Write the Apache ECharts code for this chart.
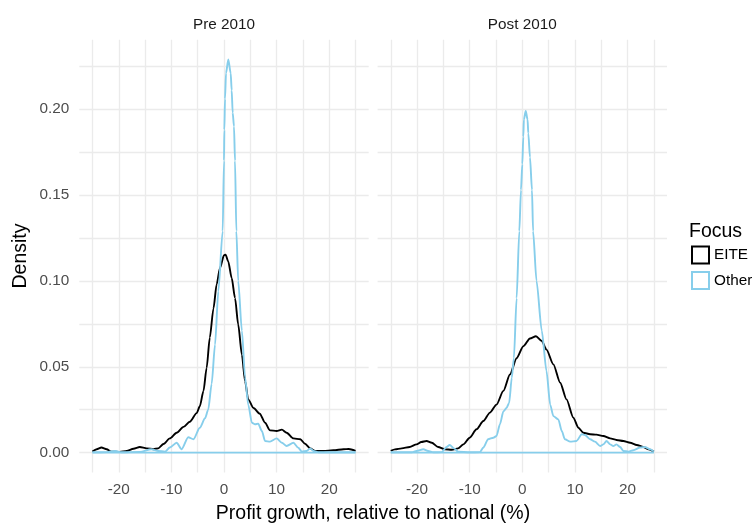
<!DOCTYPE html>
<html><head><meta charset="utf-8">
<script src="https://cdn.jsdelivr.net/npm/echarts@6/dist/echarts.min.js"></script>
<style>html,body{margin:0;padding:0;background:#fff}#c{width:752px;height:523px}</style>
</head><body><div id="c"></div>
<script>
const panels = ['Pre 2010', 'Post 2010'];
const groups = ['EITE', 'Other'];
const groupColors = ['#000000', '#87CEEB'];
const xTicks = [-25, -20, -15, -10, -5, 0, 5, 10, 15, 20, 25];
const xLabels = [-20, -10, 0, 10, 20];
const yTicks = [0, 0.025, 0.05, 0.075, 0.1, 0.125, 0.15, 0.175, 0.2, 0.225];
const yLabels = [0, 0.05, 0.1, 0.15, 0.2];

const preEITE = [[-25,0.0006],[-24.2,0.002],[-23.3,0.003],[-22.3,0.002],[-21.4,0.0006],[-19.8,0.0004],[-18.5,0.001],[-17.2,0.0023],[-16,0.0033],[-14.7,0.0025],[-13.4,0.002],[-12.5,0.0025],[-11.5,0.005],[-10.3,0.0083],[-9,0.0116],[-7.7,0.015],[-6.5,0.018],[-5.2,0.023],[-4.6,0.027],[-3.9,0.036],[-3.3,0.0494],[-2.7,0.067],[-2.0,0.084],[-1.4,0.098],[-0.76,0.1075],[0,0.115],[0.3,0.1153],[0.8,0.1114],[1.46,0.1017],[2.1,0.090],[2.7,0.0746],[3.4,0.057],[4.0,0.0417],[4.6,0.031],[5.6,0.026],[6.8,0.0227],[7.8,0.0174],[8.75,0.013],[10,0.0126],[11,0.0134],[11.9,0.0116],[13.2,0.0083],[14.5,0.0078],[15.4,0.0052],[16.4,0.0025],[17.3,0.001],[18.9,0.001],[20.8,0.0014],[22.7,0.002],[23.7,0.0021],[25,0.001]];
const preOther = [[-25,0.0002],[-22.3,0.0003],[-20.7,0.001],[-19.5,0.0002],[-16,0.0004],[-13.8,0.002],[-12.5,0.001],[-11.2,0.0006],[-10.3,0.003],[-9,0.0058],[-8.05,0.002],[-6.8,0.009],[-5.8,0.0078],[-4.6,0.0145],[-3.6,0.020],[-3.0,0.025],[-2.35,0.040],[-1.7,0.063],[-1.08,0.094],[-0.25,0.129],[0,0.17],[0.06,0.188],[0.19,0.206],[0.38,0.221],[0.82,0.229],[1.27,0.221],[1.46,0.211],[1.65,0.198],[1.9,0.19],[2.09,0.17],[2.35,0.129],[2.7,0.10],[3.4,0.071],[4.0,0.044],[4.6,0.028],[5.3,0.0174],[5.9,0.0165],[6.5,0.0169],[7.2,0.0126],[7.8,0.0068],[8.75,0.0064],[10,0.0083],[11,0.0058],[11.9,0.0039],[13.2,0.0058],[14.1,0.0029],[14.8,0.0006],[15.7,0.001],[16.4,0.0025],[17,0.001],[18,0.0002],[25,0.0002]];
const postEITE = [[-25,0.001],[-24.2,0.0019],[-22.9,0.0025],[-21.4,0.0033],[-20.1,0.0048],[-19.2,0.0062],[-18.2,0.0068],[-17.2,0.0058],[-16,0.0033],[-14.7,0.0019],[-13.4,0.0017],[-12.2,0.0025],[-11.2,0.0048],[-10,0.0087],[-8.7,0.0136],[-7.4,0.0184],[-6.15,0.0233],[-4.9,0.028],[-3.6,0.036],[-2.35,0.0455],[-1.08,0.055],[0.2,0.062],[1.46,0.0665],[2.6,0.0678],[3.7,0.065],[4.6,0.060],[5.9,0.0514],[7.2,0.0407],[8.4,0.031],[9.7,0.0204],[10.65,0.0145],[11.6,0.0116],[12.9,0.0107],[14.1,0.0105],[15.4,0.0097],[16.7,0.0083],[17.9,0.0074],[19.2,0.0068],[20.5,0.0058],[21.75,0.0045],[23,0.0033],[24,0.0019],[25,0.0006]];
const postOther = [[-25,0.0002],[-21,0.0002],[-20.1,0.001],[-18.8,0.002],[-17.9,0.001],[-16.9,0.0002],[-15.3,0.0003],[-14.4,0.0033],[-13.8,0.0045],[-13,0.0025],[-12.2,0.0006],[-10,0.0002],[-8.05,0.0003],[-7.4,0.003],[-6.5,0.0078],[-5.5,0.0087],[-4.9,0.0097],[-4.25,0.0165],[-3.6,0.024],[-3.0,0.026],[-2.5,0.029],[-2.0,0.0436],[-1.6,0.055],[-1.08,0.090],[-0.57,0.129],[-0.25,0.153],[0,0.168],[0.19,0.184],[0.3,0.194],[0.65,0.199],[1.0,0.194],[1.14,0.186],[1.46,0.172],[1.84,0.153],[2.05,0.129],[2.7,0.10],[3.7,0.071],[4.6,0.0475],[5.3,0.028],[5.9,0.0213],[6.85,0.0194],[7.5,0.0126],[8.1,0.0078],[9.1,0.0064],[10.3,0.0068],[11.3,0.0107],[11.9,0.0103],[12.9,0.0078],[13.8,0.0064],[14.8,0.0039],[15.4,0.0048],[16,0.0068],[16.7,0.0048],[17.3,0.0039],[17.9,0.0048],[18.6,0.0033],[19.2,0.001],[20.2,0.0006],[21.1,0.0014],[22.4,0.003],[23.3,0.0033],[24.3,0.002],[25,0.0006]];

const panelData = [[preEITE, preOther], [postEITE, postOther]];
const FONT = '"Liberation Sans", Arial, sans-serif';
const SMALL = 15.3, BIG = 19.5;

const gridPos = [{left: 79.3, top: 39.7, width: 289.4, height: 432.7}, {left: 377.6, top: 39.7, width: 289.4, height: 432.7}];
const grid = gridPos.map(g => Object.assign({containLabel: false}, g));
const xAxis = panels.map((p, i) => ({
  type: 'value', gridIndex: i, min: -27.5, max: 27.5,
  axisLine: {show: false},
  axisTick: {show: false, customValues: xTicks},
  axisLabel: {customValues: xLabels, margin: 10, color: '#4D4D4D', fontSize: SMALL, fontFamily: FONT},
  splitLine: {show: true, lineStyle: {color: '#EBEBEB', width: 1.3}}
}));
const yAxis = panels.map((p, i) => ({
  type: 'value', gridIndex: i, min: -0.0115, max: 0.2405,
  axisLine: {show: false},
  axisTick: {show: false, customValues: yTicks},
  axisLabel: {show: i === 0, customValues: yLabels, margin: 10, color: '#4D4D4D', fontSize: SMALL, fontFamily: FONT,
    formatter: v => v.toFixed(2)},
  splitLine: {show: true, lineStyle: {color: '#EBEBEB', width: 1.3}}
}));

const series = [];
panelData.forEach((pd, i) => {
  pd.forEach((d, g) => {
    series.push({
      type: 'line', name: groups[g], xAxisIndex: i, yAxisIndex: i,
      data: d, showSymbol: false, symbol: 'none', smooth: 0.25, smoothMonotone: 'x',
      lineStyle: {color: groupColors[g], width: 1.9}, itemStyle: {color: groupColors[g]},
      z: 2 + g, silent: true
    });
  });
  // bottom edge of the density outline (drawn from the data extent)
  const d0 = pd[1];
  series.push({
    type: 'line', name: groups[1], xAxisIndex: i, yAxisIndex: i,
    data: [[d0[0][0], 0], [d0[d0.length - 1][0], 0]], showSymbol: false, symbol: 'none',
    lineStyle: {color: groupColors[1], width: 1.9}, itemStyle: {color: groupColors[1]}, z: 4, silent: true
  });
});

const graphic = [
  {type: 'text', x: 224, y: 25, style: {text: panels[0], align: 'center', verticalAlign: 'middle', fontSize: SMALL, fill: '#1A1A1A', fontFamily: FONT}},
  {type: 'text', x: 522.3, y: 25, style: {text: panels[1], align: 'center', verticalAlign: 'middle', fontSize: SMALL, fill: '#1A1A1A', fontFamily: FONT}},
  {type: 'text', x: 373, y: 514, style: {text: 'Profit growth, relative to national (%)', align: 'center', verticalAlign: 'middle', fontSize: BIG, fill: '#000', fontFamily: FONT}},
  {type: 'text', x: 21, y: 256, rotation: Math.PI / 2, style: {text: 'Density', align: 'center', verticalAlign: 'middle', fontSize: BIG, fill: '#000', fontFamily: FONT}},
  {type: 'text', x: 689, y: 232, style: {text: 'Focus', align: 'left', verticalAlign: 'middle', fontSize: BIG, fill: '#000', fontFamily: FONT}}
];

const chart = echarts.init(document.getElementById('c'), null, {renderer: 'canvas'});
chart.setOption({
  animation: false,
  backgroundColor: '#fff',
  grid, xAxis, yAxis, series, graphic,
  legend: {
    orient: 'vertical', left: 691, top: 245.5, itemWidth: 17, itemHeight: 17, itemGap: 6.5, icon: 'rect', padding: 0,
    selectedMode: false,
    data: groups.map((g, k) => ({name: g, itemStyle: {color: 'rgba(0,0,0,0)', borderColor: groupColors[k], borderWidth: 2}})),
    textStyle: {fontSize: SMALL, color: '#000', fontFamily: FONT}
  }
});
</script></body></html>
